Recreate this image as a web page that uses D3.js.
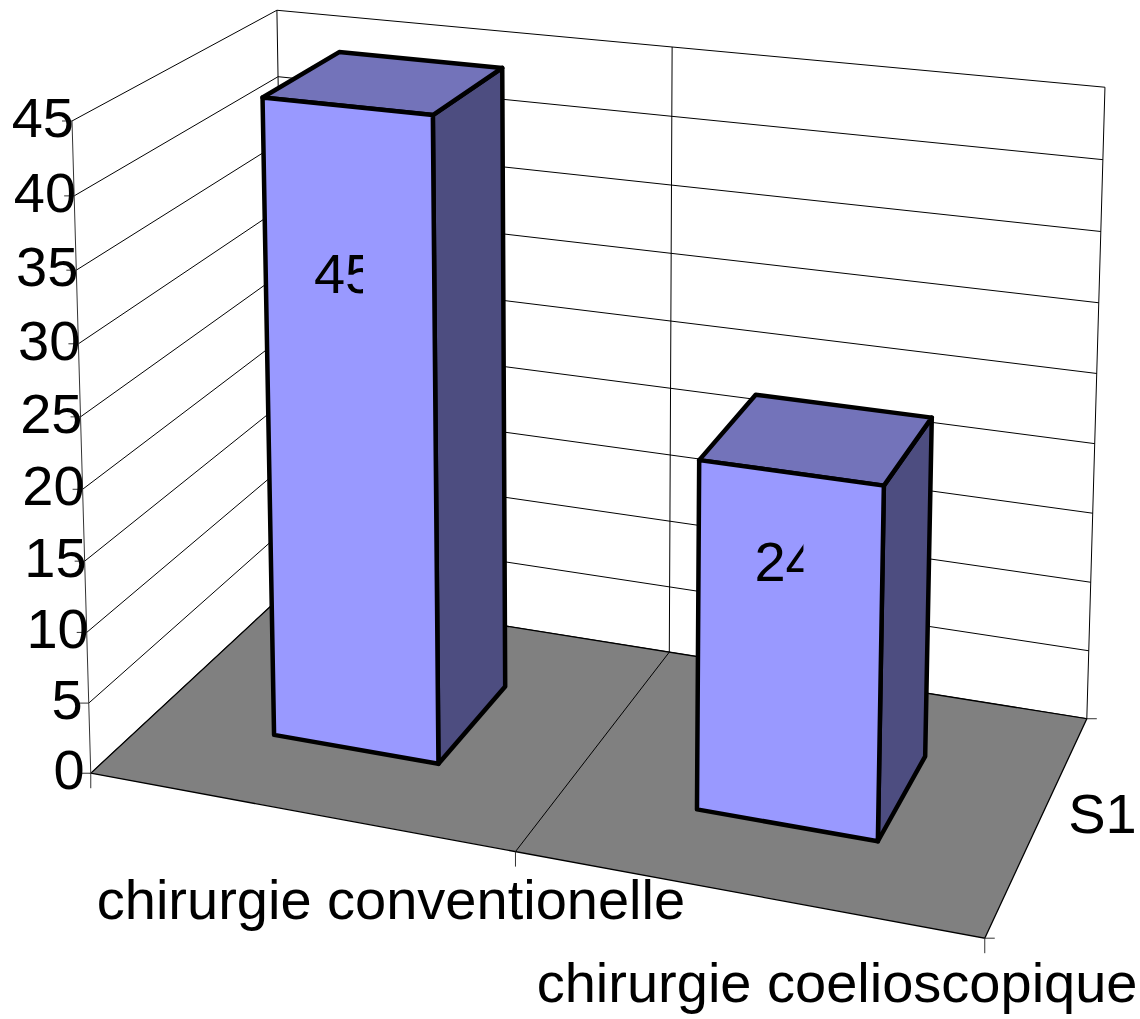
<!DOCTYPE html>
<html>
<head>
<meta charset="utf-8">
<script src="https://cdn.jsdelivr.net/npm/d3@7"></script>
<style>
  html, body { margin: 0; padding: 0; background: #fff; }
  svg { display: block; }
  text { font-family: "Liberation Sans", Arial, sans-serif; fill: #000; }
</style>
</head>
<body>
<svg id="chart" width="1140" height="1019"></svg>
<script>
// ---- data ----
const categories = ["chirurgie conventionelle", "chirurgie coelioscopique"];
const seriesNames = ["S1"];
const values = [45, 24];
const valueTicks = [0, 5, 10, 15, 20, 25, 30, 35, 40, 45];

// ---- 3D frame: world box [0,1]^3 (x = categories, y = value, z = series depth)
// anchored to screen points, from which a perspective camera is solved.
const frameAnchors = [
  { w: [0, 0, 0],   p: [91, 773] },
  { w: [0, 1, 0],   p: [72, 121] },
  { w: [0, 0, 1],   p: [287, 591] },
  { w: [0, 1, 1],   p: [277, 10] },
  { w: [1, 0, 1],   p: [1087, 718] },
  { w: [1, 1, 1],   p: [1105, 87.5] },
  { w: [1, 0, 0],   p: [985, 938] },
  { w: [0.5, 0, 0], p: [515, 852] },
  { w: [0.5, 0, 1], p: [669, 653] },
  { w: [0.5, 1, 1], p: [672, 47] }
];

function solveCamera(anchors) {
  // DLT least squares, p34 = 1
  const A = [], b = [];
  anchors.forEach(({ w: [X, Y, Z], p: [u, v] }) => {
    A.push([X, Y, Z, 1, 0, 0, 0, 0, -u * X, -u * Y, -u * Z]); b.push(u);
    A.push([0, 0, 0, 0, X, Y, Z, 1, -v * X, -v * Y, -v * Z]); b.push(v);
  });
  const n = 11;
  const M = Array.from({ length: n }, (_, i) => {
    const row = new Array(n + 1).fill(0);
    for (let j = 0; j < n; j++) for (let k = 0; k < A.length; k++) row[j] += A[k][i] * A[k][j];
    for (let k = 0; k < A.length; k++) row[n] += A[k][i] * b[k];
    return row;
  });
  for (let c = 0; c < n; c++) {
    let piv = c;
    for (let r = c + 1; r < n; r++) if (Math.abs(M[r][c]) > Math.abs(M[piv][c])) piv = r;
    [M[c], M[piv]] = [M[piv], M[c]];
    for (let r = 0; r < n; r++) {
      if (r === c) continue;
      const f = M[r][c] / M[c][c];
      for (let k = c; k <= n; k++) M[r][k] -= f * M[c][k];
    }
  }
  return M.map((row, i) => row[n] / row[i]);
}
const P = solveCamera(frameAnchors);
function project(X, Y, Z) {
  const w = P[8] * X + P[9] * Y + P[10] * Z + 1;
  return [(P[0] * X + P[1] * Y + P[2] * Z + P[3]) / w,
          (P[4] * X + P[5] * Y + P[6] * Z + P[7]) / w];
}

// ---- scales ----
const x = d3.scaleBand().domain(categories).range([0, 1]).paddingInner(0.6).paddingOuter(0.3);
const y = d3.scaleLinear().domain([0, 45]).range([0, 1]);
const z = d3.scaleBand().domain(seriesNames).range([0, 1]).paddingInner(0.5).paddingOuter(0.375);
const catEdges = d3.range(categories.length + 1).map(i => i / categories.length);

const svg = d3.select("#chart");
const line = d3.line();
const poly = pts => line(pts) + "Z";

// ---- walls ----
const walls = svg.append("g").attr("stroke", "#000").attr("stroke-width", 1).attr("fill", "none");
valueTicks.forEach(t => {
  walls.append("path").attr("d", line([project(0, y(t), 0), project(0, y(t), 1)]));
  walls.append("path").attr("d", line([project(0, y(t), 1), project(1, y(t), 1)]));
});
catEdges.forEach(e => {
  walls.append("path").attr("d", line([project(e, 0, 1), project(e, 1, 1)]));
});

// ---- floor ----
svg.append("path")
  .attr("d", poly([project(0, 0, 0), project(1, 0, 0), project(1, 0, 1), project(0, 0, 1)]))
  .attr("fill", "#808080").attr("stroke", "#000").attr("stroke-width", 1.3);
catEdges.slice(1, -1).forEach(e => {
  svg.append("path").attr("d", line([project(e, 0, 0), project(e, 0, 1)]))
    .attr("stroke", "#000").attr("stroke-width", 1).attr("fill", "none");
});

// ---- axes ----
const axes = svg.append("g").attr("stroke", "#333").attr("stroke-width", 1).attr("fill", "none");
const a0 = project(0, 0, 0), a1 = project(0, 1, 0);
axes.append("path").attr("d", line([a1, a0]));
// value ticks
valueTicks.forEach(t => {
  const [px, py] = project(0, y(t), 0);
  axes.append("path").attr("d", line([[px - 10, py], [px, py]]));
});
// category ticks
catEdges.forEach(e => {
  const [px, py] = project(e, 0, 0);
  axes.append("path").attr("d", line([[px, py], [px, py + 15]]));
});
// series ticks
[0, 1].forEach(e => {
  const [px, py] = project(1, 0, e);
  axes.append("path").attr("d", line([[px, py], [px + 10, py]]));
});

// value labels (single digits sit a little further from the axis)
svg.append("g").selectAll("text").data(valueTicks).join("text")
  .attr("x", t => project(0, y(t), 0)[0] + 2 - (String(t).length < 2 ? 8 : 0))
  .attr("y", t => project(0, y(t), 0)[1] + 16)
  .attr("text-anchor", "end")
  .attr("font-size", 56)
  .text(t => t);

// category labels
svg.append("g").selectAll("text").data(categories).join("text")
  .attr("x", c => project(x(c) + x.bandwidth() / 2, 0, 0)[0] + 93)
  .attr("y", c => project(x(c) + x.bandwidth() / 2, 0, 0)[1] + 108)
  .attr("text-anchor", "middle")
  .attr("font-size", 56)
  .text(c => c);

// series label
svg.append("g").selectAll("text").data(seriesNames).join("text")
  .attr("x", s => project(1, 0, z(s) + z.bandwidth() / 2)[0] + 29)
  .attr("y", s => project(1, 0, z(s) + z.bandwidth() / 2)[1] + 12)
  .attr("font-size", 56)
  .text(s => s);

// ---- bars ----
const bars = svg.append("g").attr("stroke", "#000").attr("stroke-width", 4.5).attr("stroke-linejoin", "round");
const z0 = z("S1"), z1 = z0 + z.bandwidth();
categories.forEach((c, i) => {
  const x0 = x(c), x1 = x0 + x.bandwidth(), h = y(values[i]);
  bars.append("path").attr("fill", "#4D4D80")
    .attr("d", poly([project(x1, 0, z0), project(x1, h, z0), project(x1, h, z1), project(x1, 0, z1)]));
  bars.append("path").attr("fill", "#7373BA")
    .attr("d", poly([project(x0, h, z0), project(x1, h, z0), project(x1, h, z1), project(x0, h, z1)]));
  bars.append("path").attr("fill", "#9999FF")
    .attr("d", poly([project(x0, 0, z0), project(x1, 0, z0), project(x1, h, z0), project(x0, h, z0)]));
});

// ---- data labels (clipped to a narrow label box) ----
const defs = svg.append("defs");
categories.forEach((c, i) => {
  const x0 = x(c), x1 = x0 + x.bandwidth();
  const ly = y(values[i] * 0.74);
  const pl = project(x0, ly, z0), pr = project(x1, ly, z0);
  const cx = (pl[0] + pr[0]) / 2, cy = (pl[1] + pr[1]) / 2;
  const sx = cx - 36;
  defs.append("clipPath").attr("id", "lbl" + i)
    .append("rect").attr("x", sx - 2).attr("y", cy - 45).attr("width", 51).attr("height", 80);
  svg.append("text")
    .attr("clip-path", `url(#lbl${i})`)
    .attr("x", sx).attr("y", cy + 15)
    .attr("font-size", 56)
    .text(values[i]);
});
</script>
</body>
</html>
